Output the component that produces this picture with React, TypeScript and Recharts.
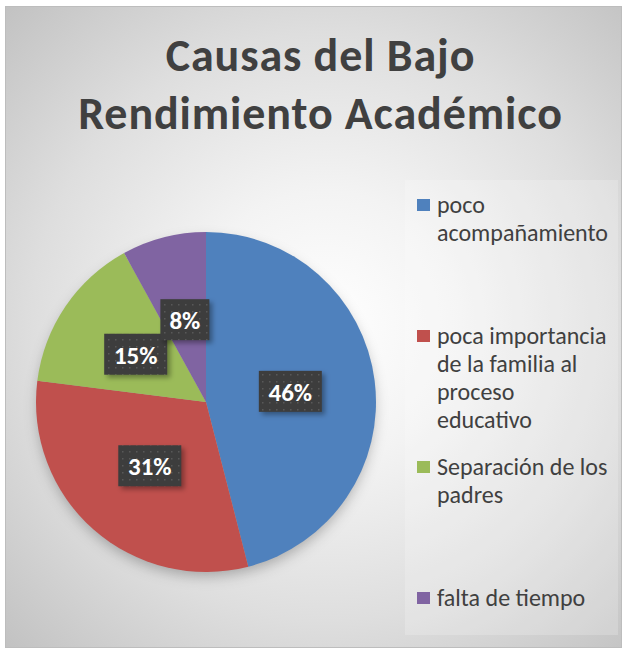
import React from 'react';
import { PieChart, Pie, Cell, Legend } from 'recharts';

const categories = [
  'poco acompañamiento',
  'poca importancia de la familia al proceso educativo',
  'Separación de los padres',
  'falta de tiempo',
];
const values = [46, 31, 15, 8];
const colors = ['#4F81BD', '#C0504D', '#9BBB59', '#8064A2'];
const legendLines = [
  ['poco', 'acompañamiento'],
  ['poca importancia', 'de la familia al', 'proceso', 'educativo'],
  ['Separación de los', 'padres'],
  ['falta de tiempo'],
];
const titleLines = ['Causas del Bajo', 'Rendimiento Académico'];

const data = categories.map((name, i) => ({ name, value: values[i] }));
const shadowData = [{ name: 'shadow', value: 1 }];

const FONT = 'Carlito, Lato, "Open Sans", sans-serif';
const RAD = Math.PI / 180;

const renderLabel = (props: any) => {
  const { cx, cy, midAngle, outerRadius, value } = props;
  const r = outerRadius * 0.5;
  const x = cx + r * Math.cos(-midAngle * RAD);
  const y = cy + r * Math.sin(-midAngle * RAD);
  const text = `${value}%`;
  const w = text.length * 14 + 21;
  const h = 41;
  return (
    <g>
      <rect x={x - w / 2 + 3} y={y - h / 2 + 3} width={w} height={h} fill="rgba(0,0,0,0.35)" filter="url(#lblBlur)" />
      <rect x={x - w / 2} y={y - h / 2} width={w} height={h} fill="url(#dots)" />
      <text x={x} y={y + 1} textAnchor="middle" dominantBaseline="central" fill="#ffffff" fontSize={25} fontWeight={700} fontFamily={FONT}>
        {text}
      </text>
    </g>
  );
};

const renderLegend = (props: any) => {
  const payload = (props.payload || [])
    .filter((p: any) => categories.indexOf(p.value) >= 0)
    .sort((a: any, b: any) => categories.indexOf(a.value) - categories.indexOf(b.value));
  return (
    <div style={{ paddingTop: 11, fontFamily: FONT }}>
      {payload.map((p: any, i: number) => {
        const idx = categories.indexOf(p.value);
        const lines = legendLines[idx];
        return (
          <div key={i} style={{ position: 'relative', height: 131 }}>
            <div style={{ position: 'absolute', left: 12, top: 8, width: 13, height: 12, background: p.color }} />
            <div style={{ position: 'absolute', left: 32, top: 0, fontSize: 24, lineHeight: '28px', color: '#404040', whiteSpace: 'nowrap' }}>
              {lines.map((l: string, k: number) => (
                <div key={k}>{l}</div>
              ))}
            </div>
          </div>
        );
      })}
    </div>
  );
};

export default function App() {
  return (
    <div style={{ position: 'absolute', left: 0, top: 0, width: 624, height: 650, background: '#ffffff', overflow: 'hidden' }}>
      <div
        style={{
          position: 'absolute',
          left: 5,
          top: 6,
          width: 615,
          height: 640,
          border: '1px solid #bdbdbd',
          background: 'radial-gradient(ellipse farthest-corner at 52% 50%, #ffffff 0%, #f3f3f3 30%, #dedede 65%, #c2c2c2 100%)',
        }}
      />
      <div
        style={{
          position: 'absolute',
          left: 0,
          top: 26,
          width: 641,
          textAlign: 'center',
          fontFamily: FONT,
          fontWeight: 700,
          fontSize: 46,
          letterSpacing: 0.9,
          lineHeight: '58px',
          color: '#404040',
        }}
      >
        {titleLines.map((t, i) => (
          <div key={i}>{t}</div>
        ))}
      </div>
      <div style={{ position: 'absolute', left: 0, top: 0 }}>
        <PieChart width={624} height={650} margin={{ top: 0, right: 0, bottom: 0, left: 0 }}>
          <defs>
            <pattern id="dots" width="7" height="7" patternUnits="userSpaceOnUse">
              <rect width="7" height="7" fill="#3d3d3d" />
              <rect x="3" y="3" width="1.5" height="1.5" fill="#585858" />
            </pattern>
            <filter id="lblBlur" x="-30%" y="-30%" width="160%" height="160%">
              <feGaussianBlur stdDeviation="2.5" />
            </filter>
            <filter id="pieShadow" x="-20%" y="-20%" width="140%" height="140%">
              <feGaussianBlur stdDeviation="7" />
            </filter>
          </defs>
          <Pie
            data={shadowData}
            dataKey="value"
            nameKey="name"
            cx={206}
            cy={408}
            outerRadius={168}
            startAngle={90}
            endAngle={-270}
            isAnimationActive={false}
            legendType="none"
            stroke="none"
          >
            <Cell fill="rgba(0,0,0,0.28)" filter="url(#pieShadow)" />
          </Pie>
          <Pie
            data={data}
            dataKey="value"
            nameKey="name"
            cx={206}
            cy={402}
            outerRadius={170}
            startAngle={90}
            endAngle={-270}
            isAnimationActive={false}
            stroke="none"
            labelLine={false}
            label={renderLabel}
          >
            {data.map((d, i) => (
              <Cell key={d.name} fill={colors[i]} />
            ))}
          </Pie>
          <Legend
            content={renderLegend}
            wrapperStyle={{
              position: 'absolute',
              left: 405,
              top: 180,
              width: 213,
              height: 455,
              background: 'rgba(255,255,255,0.2)',
            }}
          />
        </PieChart>
      </div>
    </div>
  );
}
